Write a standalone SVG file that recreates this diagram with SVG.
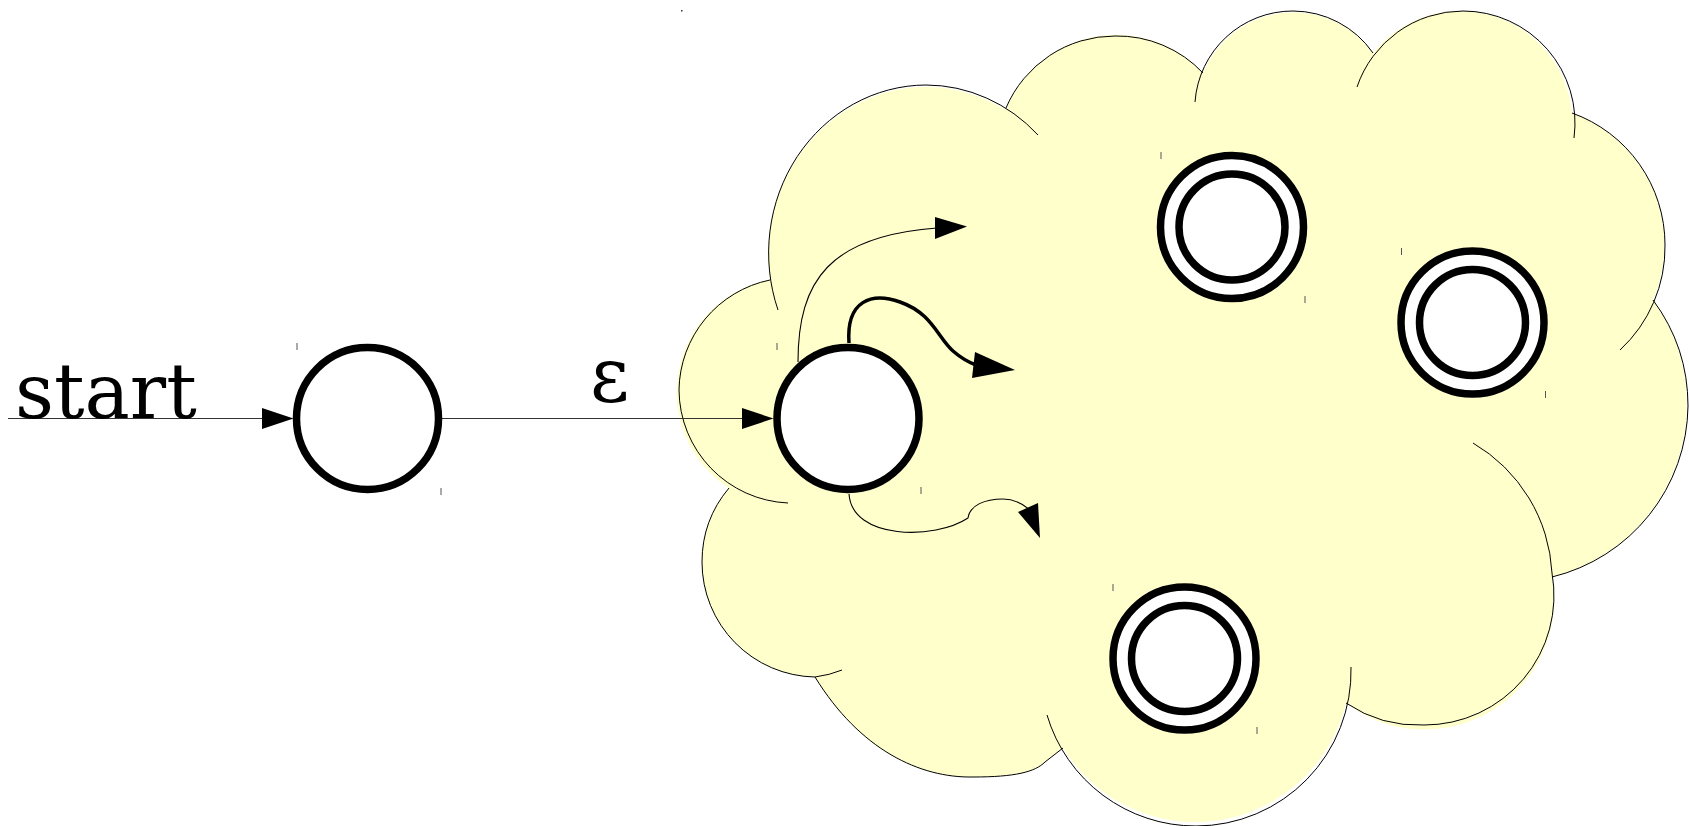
<svg xmlns="http://www.w3.org/2000/svg" width="1689" height="826" viewBox="0 0 1689 826">
<style>
.lobe{fill:none;stroke:#000;stroke-width:1}
.st{fill:#fff;stroke:#000;stroke-width:7.5}
.tick{stroke:#555;stroke-width:1}
.edge{fill:none;stroke:#000;stroke-width:1.1}
.thick{fill:none;stroke:#000;stroke-width:3.5}
.head{fill:#000}
.lbl{font-family:"DejaVu Serif","Liberation Serif",serif;font-size:76px;fill:#000}
</style>
<rect width="1689" height="826" fill="#fff"/>
<rect x="681" y="10" width="1.5" height="1.5" fill="#333"/>
<g id="cloud">
<path fill="#ffffcc" d="M770,280 A158,168 0 0 1 1006,110 A118,118 0 0 1 1203,73 A98,98 0 0 1 1373,53 A112,112 0 0 1 1572,113 A140,140 0 0 1 1653,300 A178,178 0 0 1 1552,577 A129.5,129.5 0 0 1 1346,703 A155,155 0 0 1 1063,748 L1045,762 C1035,772 1015,777 973,777 C920,778 860,750 815,677 A115,115 0 0 1 729,488 A114,114 0 0 1 770,280 Z"/>
<path class="lobe" d="M778,310 A158,168 0 0 1 926,85 A158,168 0 0 1 1038,135"/>
<path class="lobe" d="M1006,108 A118,118 0 0 1 1115,36 A118,118 0 0 1 1203,73"/>
<path class="lobe" d="M1195,102 A98,98 0 0 1 1293,11 A98,98 0 0 1 1373,53"/>
<path class="lobe" d="M1357,87 A112,112 0 0 1 1463,11 A112,112 0 0 1 1574,138"/>
<path class="lobe" d="M1572,113 A140,140 0 0 1 1665,245 A140,140 0 0 1 1620,350"/>
<path class="lobe" d="M1653,300 A178,178 0 0 1 1688,406 A178,178 0 0 1 1552,577"/>
<path class="lobe" d="M1473,443 A160,160 0 0 1 1552,573 A129.5,129.5 0 0 1 1424,725 A129.5,129.5 0 0 1 1346,703"/>
<path class="lobe" d="M1351,667 A155,155 0 0 1 1196,826 A155,155 0 0 1 1047,715"/>
<path class="lobe" d="M815,677 C860,750 920,778 973,777 C1015,777 1035,772 1045,762 L1063,748"/>
<path class="lobe" d="M729,488 A115,115 0 0 0 702,562 A115,115 0 0 0 815,677 Q830,675 842,670"/>
<path class="lobe" d="M770,280 A114,114 0 0 0 679,390 A114,114 0 0 0 788,503"/>
</g>
<g id="connectors">
<line x1="8" y1="418.5" x2="264" y2="418.5" stroke="#333" stroke-width="1.1"/>
<polygon class="head" points="262,408 293.5,418.5 262,429"/>
<text class="lbl" x="15" y="418">start</text>
<line x1="440" y1="418.5" x2="744" y2="418.5" stroke="#333" stroke-width="1.1"/>
<polygon class="head" points="742,408 773.5,418.5 742,429"/>
<text class="lbl" x="590" y="402">ε</text>
<path class="edge" d="M798,362 C798,280 830,236 937,228"/>
<polygon class="head" points="935,217 967,226.5 935,239"/>
<path class="thick" d="M849,343 C846,300 872,292 900,302 C932,313 938,338 953,351 C961,358 968,362 976,365"/>
<polygon class="head" points="975,352 1015,370 972,378"/>
<path class="edge" d="M849,494 C852,540 935,540 968,518 C970,505 985,499 1003,499 C1015,499 1023,504 1030,510"/>
<polygon class="head" points="1018,512 1040,538 1038,503"/>
</g>
<g id="q0">
<circle class="st" cx="367.5" cy="418.5" r="71"/>
<line class="tick" x1="297" y1="343" x2="297" y2="350"/>
<line class="tick" x1="441" y1="488" x2="441" y2="495"/>
</g>
<g id="q1">
<circle class="st" cx="848" cy="418.5" r="71"/>
<line class="tick" x1="777" y1="343" x2="777" y2="350"/>
<line class="tick" x1="921" y1="487" x2="921" y2="494"/>
</g>
<g id="f1">
<circle class="st" cx="1232" cy="227" r="71.5"/>
<circle class="st" cx="1232" cy="227" r="53"/>
<line class="tick" x1="1161" y1="152" x2="1161" y2="159"/>
<line class="tick" x1="1305" y1="296" x2="1305" y2="303"/>
</g>
<g id="f2">
<circle class="st" cx="1472.5" cy="322.5" r="71.5"/>
<circle class="st" cx="1472.5" cy="322.5" r="53"/>
<line class="tick" x1="1401.5" y1="248" x2="1401.5" y2="255"/>
<line class="tick" x1="1545.5" y1="391" x2="1545.5" y2="398"/>
</g>
<g id="f3">
<circle class="st" cx="1184.5" cy="658.5" r="71.5"/>
<circle class="st" cx="1184.5" cy="658.5" r="53"/>
<line class="tick" x1="1113" y1="584" x2="1113" y2="591"/>
<line class="tick" x1="1257" y1="727" x2="1257" y2="734"/>
</g>
</svg>
